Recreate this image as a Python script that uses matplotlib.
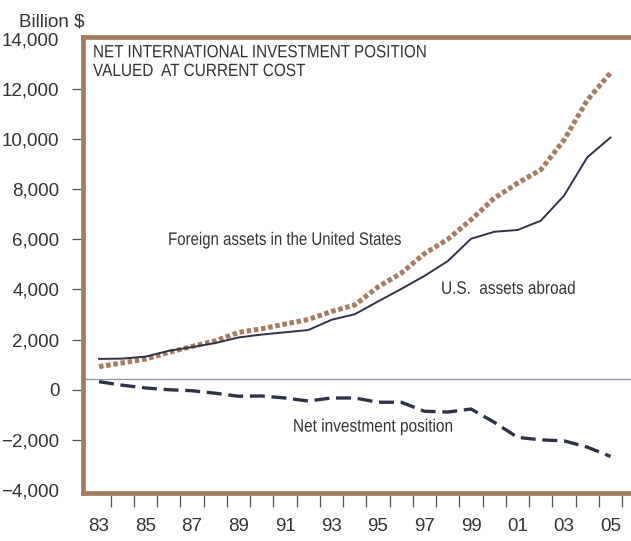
import numpy as np
import matplotlib.pyplot as plt
from matplotlib.patheffects import AbstractPathEffect
from matplotlib.transforms import Affine2D

# Net international investment position, current cost, billions of dollars
years = np.arange(1983, 2006)
us_assets = [1230, 1240, 1320, 1550, 1700, 1860, 2085, 2200, 2290, 2380,
             2790, 3010, 3520, 4020, 4540, 5130, 6020, 6300, 6370, 6740,
             7740, 9270, 10060]
foreign_assets = [920, 1070, 1220, 1490, 1725, 1950, 2285, 2430, 2620, 2800,
                  3120, 3380, 4100, 4650, 5430, 6000, 6780, 7640, 8240, 8770,
                  9960, 11550, 12640]
net_position = [320, 180, 70, 0, -40, -140, -260, -250, -330, -450,
                -330, -330, -500, -500, -860, -890, -770, -1300, -1900, -2000,
                -2040, -2290, -2660]
zero_line = 440  # drawn a bit above the 0 tick in the original

tick_vals = list(range(-4000, 14001, 2000))
year_labels = ["83", "85", "87", "89", "91", "93", "95", "97", "99", "01", "03", "05"]


# the original uses a condensed face; squeeze Liberation Sans sideways
class Squeeze(AbstractPathEffect):
    def __init__(self, sx):
        super().__init__()
        self.sx = sx

    def draw_path(self, renderer, gc, tpath, affine, rgbFace=None):
        renderer.draw_path(gc, tpath, Affine2D().scale(self.sx, 1) + affine, rgbFace)


def squeeze_to(t, width_px):
    w = t.get_window_extent(fig.canvas.get_renderer()).width
    t.set_path_effects([Squeeze(width_px / w)])


brown = "#a57c60"
navy = "#2f3347"
txt = "#333333"
plt.rcParams["font.family"] = "Liberation Sans"

fig = plt.figure(figsize=(6.31, 5.41), dpi=100)
ax = fig.add_axes([0.1315, 0.0887, 0.8685, 0.843])

ax.plot(years, foreign_assets, color=brown, lw=3.6, ls=(0, (0.9, 0.55)),
        dash_capstyle="butt", zorder=3)
ax.plot(years, us_assets, color=navy, lw=1.4, zorder=4)
ax.plot(years, net_position, color=navy, lw=2.4, ls=(0, (4.5, 2)), zorder=4)
ax.axhline(zero_line, color="#8e93ab", lw=0.9, zorder=2)

ax.set_xlim(1982.31, 2005.88)
ax.set_ylim(-4120, 14070)

for side in ["left", "top", "bottom"]:
    ax.spines[side].set_color(brown)
    ax.spines[side].set_linewidth(3.4)
ax.spines["right"].set_visible(False)

ax.set_yticks(tick_vals)
ax.set_yticklabels([f"{v:,}".replace("-", "\u2212") for v in tick_vals])
ax.tick_params(axis="y", direction="out", length=8, width=0.9, color="#555555",
               pad=9, labelsize=13.5, labelcolor=txt)
yt = ax.yaxis.get_major_ticks()
yt[0].tick1line.set_visible(False)
yt[-1].tick1line.set_visible(False)

ax.set_xticks(years[::2])
ax.set_xticklabels(year_labels)
ax.set_xticks(years + 0.5, minor=True)
ax.tick_params(axis="x", which="major", length=0, pad=18, labelsize=13.5,
               labelcolor=txt)
ax.tick_params(axis="x", which="minor", direction="out", length=10, width=0.9,
               color="#555555")

fig.text(0.03, 0.96, "Billion $", fontsize=13.5, color=txt, va="center")

t1 = fig.text(93 / 631, 1 - 57.3 / 541, "NET INTERNATIONAL INVESTMENT POSITION",
              fontsize=12.8, color=txt, ha="left", va="baseline")
t2 = fig.text(93 / 631, 1 - 76 / 541, "VALUED  AT CURRENT COST",
              fontsize=12.8, color=txt, ha="left", va="baseline")
l1 = ax.text(1985.97, 5777, "Foreign assets in the United States", fontsize=13,
             color=txt, ha="left", va="baseline")
l2 = ax.text(1997.71, 3825, "U.S.  assets abroad", fontsize=13, color=txt,
             ha="left", va="baseline")
l3 = ax.text(1991.34, -1673, "Net investment position", fontsize=13, color=txt,
             ha="left", va="baseline")

squeeze_to(t1, 334)
squeeze_to(t2, 212)
squeeze_to(l1, 233)
squeeze_to(l2, 134)
squeeze_to(l3, 160)

plt.savefig("out.png", dpi=100)
